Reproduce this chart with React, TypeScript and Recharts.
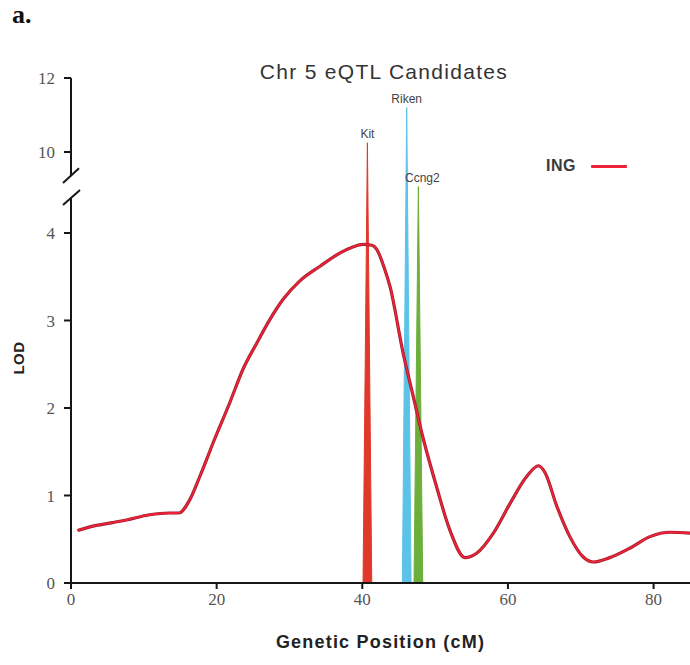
import React from "react";
import {
  ComposedChart,
  Line,
  Area,
  XAxis,
  YAxis,
  ReferenceLine,
  ReferenceDot,
  Legend,
} from "recharts";

// ING LOD profile along chromosome 5
const ingPos = [
  0.9, 3.0, 5.7, 7.6, 10.8, 13.5, 14.8, 16.3, 17.7, 19.7, 21.8, 23.6, 25.5, 27.3, 29.1, 31.4,
  34.2, 36.9, 38.7, 40.1, 41.3, 42.0, 43.1, 43.8, 45.6, 47.0, 48.4, 50.2, 52.0, 54.1, 55.7,
  58.0, 60.3, 62.6, 64.2, 65.1, 66.7, 68.5, 70.3, 71.7, 74.0, 76.8, 79.5, 82.3, 85.0,
];
const ingLod = [
  0.6, 0.65, 0.69, 0.72, 0.78, 0.8, 0.8, 0.95, 1.22, 1.64, 2.06, 2.44, 2.74, 3.01, 3.24, 3.45,
  3.62, 3.77, 3.84, 3.87, 3.86, 3.81, 3.58, 3.39, 2.63, 2.13, 1.64, 1.1, 0.61, 0.29, 0.34,
  0.57, 0.91, 1.22, 1.34, 1.26, 0.88, 0.53, 0.3, 0.24, 0.29, 0.4, 0.53, 0.58, 0.57,
];

// eQTL candidate genes
const geneNames = ["Kit", "Riken", "Ccng2"];
const genePos = [40.7, 46.1, 47.7];
const genePeak = [10.25, 11.2, 4.53];
const geneColors = ["#e0392b", "#5cc3e8", "#6caf3b"];

const xTicks = [0, 20, 40, 60, 80];
const yTicks = [0, 1, 2, 3, 4, 10, 12];

// broken y axis: lower part at full scale, upper part (above the break) compressed
const LOW_TOP = 4.41;
const BREAK_D = 4.663;
const UP_BOTTOM = 9.38;
const UP_SCALE = 0.4229;
const toD = (v: number) =>
  v <= BREAK_D ? v : v < UP_BOTTOM ? BREAK_D : BREAK_D + (v - UP_BOTTOM) * UP_SCALE;
const Y_MAX = toD(12);
const yTickD = yTicks.map(toD);

const SPIKE_HALF = 0.6;

const ingData = ingPos.map((x, i) => ({ x, lod: toD(ingLod[i]) }));
const spikeData = geneNames.map((_, i) => [
  { x: genePos[i] - SPIKE_HALF, d: 0 },
  { x: genePos[i], d: toD(genePeak[i]) },
  { x: genePos[i] + SPIKE_HALF, d: 0 },
]);

const serif = "'Liberation Serif', 'Times New Roman', serif";
const sans = "'Liberation Sans', Arial, sans-serif";
const axisColor = "#161616";
const lineRed = "#ee2238";

function IngLegend() {
  return (
    <div style={{ display: "flex", alignItems: "center", fontFamily: sans }}>
      <span style={{ fontWeight: "bold", fontSize: 16, letterSpacing: 0.5, color: "#3a3a3a" }}>ING</span>
      <span
        style={{
          display: "inline-block",
          width: 36,
          height: 3,
          marginLeft: 15,
          background: lineRed,
          borderRadius: 1,
        }}
      />
    </div>
  );
}

export default function App() {
  return (
    <div style={{ position: "absolute", left: 0, top: 0, width: 690, height: 665, background: "#fff" }}>
      <ComposedChart width={690} height={665} margin={{ top: 78, right: 0, bottom: 0, left: 0 }}>
        <XAxis
          dataKey="x"
          type="number"
          domain={[0, 85]}
          ticks={xTicks}
          interval={0}
          allowDataOverflow
          height={82}
          axisLine={{ stroke: axisColor, strokeWidth: 2 }}
          tickLine={{ stroke: axisColor, strokeWidth: 2 }}
          tickSize={6}
          tickMargin={4}
          tick={{ fontFamily: serif, fontSize: 17, fill: "#555" }}
          label={{
            value: "Genetic Position (cM)",
            position: "insideBottom",
            offset: 17,
            fontFamily: sans,
            fontWeight: "bold",
            fontSize: 18,
            letterSpacing: 1.2,
            fill: "#222",
          }}
        />
        <YAxis
          type="number"
          domain={[0, Y_MAX]}
          ticks={yTickD}
          interval={0}
          allowDataOverflow
          width={71}
          axisLine={false}
          tickLine={{ stroke: axisColor, strokeWidth: 2 }}
          tickSize={7}
          tickMargin={9}
          tick={{ fontFamily: serif, fontSize: 17, fill: "#555" }}
          tickFormatter={(v: number) => {
            const i = yTickD.findIndex((t) => Math.abs(t - v) < 1e-6);
            return i >= 0 ? String(yTicks[i]) : "";
          }}
        />

        {/* broken y axis line and break marks */}
        <ReferenceLine
          ifOverflow="visible"
          segment={[{ x: 0, y: 0 }, { x: 0, y: LOW_TOP }]}
          stroke={axisColor}
          strokeWidth={2}
        />
        <ReferenceLine
          ifOverflow="visible"
          segment={[{ x: 0, y: BREAK_D }, { x: 0, y: Y_MAX }]}
          stroke={axisColor}
          strokeWidth={2}
        />
        <ReferenceLine
          ifOverflow="visible"
          segment={[{ x: -1.1, y: 4.32 }, { x: 1.24, y: 4.49 }]}
          stroke={axisColor}
          strokeWidth={2}
        />
        <ReferenceLine
          ifOverflow="visible"
          segment={[{ x: -1.1, y: 4.57 }, { x: 1.1, y: 4.74 }]}
          stroke={axisColor}
          strokeWidth={2}
        />

        {geneNames.map((name, i) => (
          <Area
            key={name}
            data={spikeData[i]}
            dataKey="d"
            type="linear"
            stroke={geneColors[i]}
            strokeWidth={1}
            fill={geneColors[i]}
            fillOpacity={1}
            dot={false}
            activeDot={false}
            isAnimationActive={false}
          />
        ))}

        <Line
          data={ingData}
          dataKey="lod"
          type="monotone"
          stroke="#9a1e2c"
          strokeWidth={3.2}
          dot={false}
          activeDot={false}
          isAnimationActive={false}
          legendType="none"
        />
        <Line
          data={ingData}
          dataKey="lod"
          name="ING"
          type="monotone"
          stroke={lineRed}
          strokeWidth={1.8}
          dot={false}
          activeDot={false}
          isAnimationActive={false}
        />

        {geneNames.map((name, i) => (
          <ReferenceDot
            key={"lbl" + name}
            x={genePos[i]}
            y={toD(genePeak[i])}
            r={0}
            fill="none"
            stroke="none"
            ifOverflow="visible"
            label={{
              value: name,
              position: "top",
              offset: 5,
              dx: name === "Ccng2" ? 4 : 0,
              fontFamily: sans,
              fontSize: 12,
              fill: "#444",
            }}
          />
        ))}

        <Legend
          verticalAlign="middle"
          align="center"
          layout="horizontal"
          wrapperStyle={{ left: 546, top: 157, width: "auto", height: "auto" }}
          content={() => <IngLegend />}
        />
      </ComposedChart>

      <div
        style={{
          position: "absolute",
          left: 12,
          top: 2,
          fontFamily: serif,
          fontWeight: "bold",
          fontSize: 26,
          lineHeight: 1,
          color: "#111",
        }}
      >
        a.
      </div>
      <div
        style={{
          position: "absolute",
          left: 384,
          top: 61,
          transform: "translateX(-50%)",
          whiteSpace: "nowrap",
          fontFamily: sans,
          fontSize: 21,
          letterSpacing: 1.3,
          lineHeight: 1,
          color: "#333",
        }}
      >
        Chr 5 eQTL Candidates
      </div>
      <div
        style={{
          position: "absolute",
          left: 18,
          top: 358,
          transform: "translate(-50%, -50%) rotate(-90deg)",
          whiteSpace: "nowrap",
          fontFamily: sans,
          fontWeight: "bold",
          fontSize: 15,
          letterSpacing: 0.5,
          lineHeight: 1,
          color: "#222",
        }}
      >
        LOD
      </div>
    </div>
  );
}
